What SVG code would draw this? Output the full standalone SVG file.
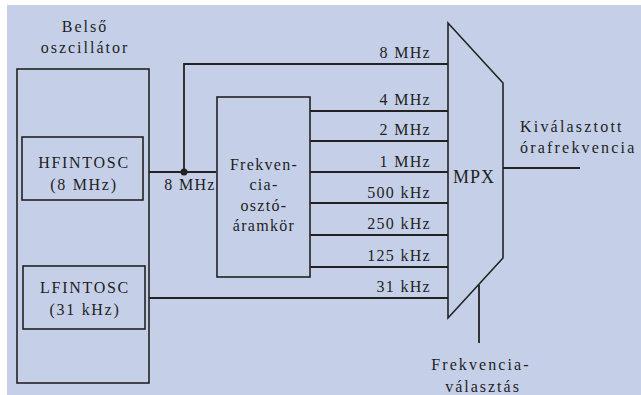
<svg xmlns="http://www.w3.org/2000/svg" width="641" height="395" viewBox="0 0 641 395">
<style>
.t{font-family:"Liberation Serif","Times New Roman",serif;font-size:16px;fill:#1e1e1e;letter-spacing:2px}
.f{letter-spacing:1.3px}
.m{text-anchor:middle}
.e{text-anchor:end}
.b{fill:none;stroke:#222;stroke-width:1.6}
.l{fill:none;stroke:#222;stroke-width:1.8}
</style>
<rect x="0" y="0" width="641" height="395" fill="#ffffff"/>
<rect x="7" y="5" width="634" height="390" fill="#c5d0e8"/>
<g id="belso">
<rect class="b" x="17" y="69" width="132" height="314"/>
<text class="t m" x="85" y="32">Belső</text>
<text class="t m" x="85" y="53">oszcillátor</text>
</g>
<g id="hfintosc">
<rect class="b" x="22" y="137" width="121" height="63" stroke-width="2"/>
<text class="t m" x="84" y="168" style="letter-spacing:1.7px">HFINTOSC</text>
<text class="t m" x="84" y="190" style="letter-spacing:1.7px">(8 MHz)</text>
</g>
<g id="lfintosc">
<rect class="b" x="23" y="266" width="122" height="63"/>
<text class="t m" x="85" y="293" style="letter-spacing:1.7px">LFINTOSC</text>
<text class="t m" x="85" y="315" style="letter-spacing:1.7px">(31 kHz)</text>
</g>
<g id="oszto">
<rect class="b" x="217" y="97" width="93" height="180"/>
<text class="t m f" x="264" y="170">Frekven-</text>
<text class="t m f" x="264" y="190">cia-</text>
<text class="t m f" x="264" y="211">osztó-</text>
<text class="t m f" x="264" y="231">áramkör</text>
</g>
<g id="mpx">
<path class="b" d="M448 23 L503 83 L503 258 L448 318 Z" stroke-width="2"/>
<text class="t" x="453" y="183" style="font-size:18px;letter-spacing:1px">MPX</text>
</g>
<g id="connectors">
<path class="l" d="M149 172 H216"/>
<circle cx="184" cy="172" r="3.5" fill="#222"/>
<path class="l" d="M184 172 V64 H448"/>
<path class="l" d="M310 111 H448 M310 141 H448 M310 172 H448 M310 203 H448 M310 235 H448"/>
<path class="l" d="M310 267 H448" stroke-width="2.6"/>
<path class="l" d="M149 298 H448" stroke-width="1.2"/>
<path class="l" d="M503 168 H580"/>
<path class="l" d="M479 285 V343" stroke-width="2.2"/>
</g>
<g id="labels">
<text class="t m f" x="190" y="190">8 MHz</text>
<text class="t e f" x="431" y="58">8 MHz</text>
<text class="t e f" x="431" y="105">4 MHz</text>
<text class="t e f" x="431" y="135">2 MHz</text>
<text class="t e f" x="431" y="167">1 MHz</text>
<text class="t e f" x="431" y="198">500 kHz</text>
<text class="t e f" x="431" y="229">250 kHz</text>
<text class="t e f" x="431" y="261">125 kHz</text>
<text class="t e f" x="431" y="292">31 kHz</text>
<text class="t" x="520" y="132" style="letter-spacing:2.2px">Kiválasztott</text>
<text class="t" x="520" y="153" style="letter-spacing:2.2px">órafrekvencia</text>
<text class="t m" x="481" y="370" style="letter-spacing:2.1px">Frekvencia-</text>
<text class="t m" x="483" y="392">választás</text>
</g>
</svg>
